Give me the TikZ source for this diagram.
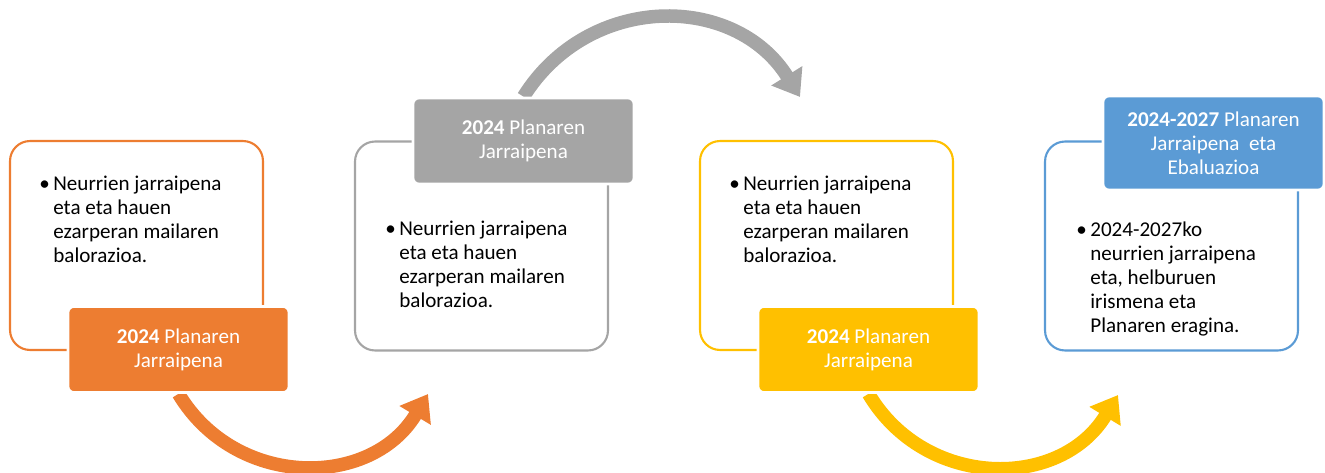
\documentclass[tikz,border=0pt]{standalone}
\usepackage{fontspec}
\setmainfont{Carlito}
\usetikzlibrary{arrows.meta,backgrounds}
\definecolor{orangeC}{HTML}{ED7D31}
\definecolor{grayC}{HTML}{A5A5A5}
\definecolor{yellowC}{HTML}{FFC000}
\definecolor{blueC}{HTML}{5B9BD5}
\tikzset{
  outbox/.style={draw=#1, fill=white, rounded corners=0.4cm, line width=1.2pt, minimum width=5.06cm, minimum height=4.18cm},
  titlebox/.style={fill=#1, draw=white, line width=1.5pt, rounded corners=0.12cm, text=white, align=center, inner sep=0pt, minimum width=4.42cm, minimum height=1.72cm, font=\fontsize{12pt}{13.6pt}\selectfont},
  bultext/.style={anchor=north west, align=left, inner sep=0pt, font=\fontsize{12pt}{13.6pt}\selectfont},
  bigarrow/.style={draw=#1, line width=0.27cm, -{Triangle[width=0.7cm,length=0.5cm]}, looseness=1.14}
}
\newcommand{\bul}{\llap{\textbullet\hspace{2pt}}}

\begin{document}
\begin{tikzpicture}[x=0.02cm, y=0.02cm]
  \useasboundingbox (0,0) rectangle (1325,-473);

  \node[outbox=orangeC] (box1) at (136.5,-245.5) {};
  \node[outbox=grayC] (box2) at (481.5,-246) {};
  \node[outbox=yellowC] (box3) at (826.5,-245.5) {};
  \node[outbox=blueC] (box4) at (1171.5,-246) {};

  \node[titlebox=orangeC] (title1) at (178.5,-349.5) {\textbf{2024} Planaren\\Jarraipena};
  \node[titlebox=grayC] (title2) at (523.5,-141) {\textbf{2024} Planaren\\Jarraipena};
  \node[titlebox=yellowC] (title3) at (868.5,-349.5) {\textbf{2024} Planaren\\Jarraipena};
  \node[titlebox=blueC, minimum height=1.88cm] (title4) at (1213.5,-143) {\textbf{2024-2027} Planaren\\Jarraipena~ eta\\Ebaluazioa};

  \node[bultext] (text1) at (53,-176) {\bul Neurrien jarraipena\\eta eta hauen\\ezarperan mailaren\\balorazioa.};
  \node[bultext] (text2) at (399,-221) {\bul Neurrien jarraipena\\eta eta hauen\\ezarperan mailaren\\balorazioa.};
  \node[bultext] (text3) at (743,-176) {\bul Neurrien jarraipena\\eta eta hauen\\ezarperan mailaren\\balorazioa.};
  \node[bultext] (text4) at (1090,-222) {\bul 2024-2027ko\\neurrien jarraipena\\eta, helburuen\\irismena eta\\Planaren eragina.};

  \coordinate (tipA) at (428,-394);
  \coordinate (tipB) at (800,-97);
  \coordinate (tipC) at (1118,-395);

  \begin{scope}[on background layer]
    \draw[bigarrow=orangeC] (title1.south) to[bend right=59] (tipA);
    \draw[bigarrow=grayC] (title2.north) to[bend left=58] (tipB);
    \draw[bigarrow=yellowC] (title3.south) to[bend right=59] (tipC);
  \end{scope}
\end{tikzpicture}
\end{document}
